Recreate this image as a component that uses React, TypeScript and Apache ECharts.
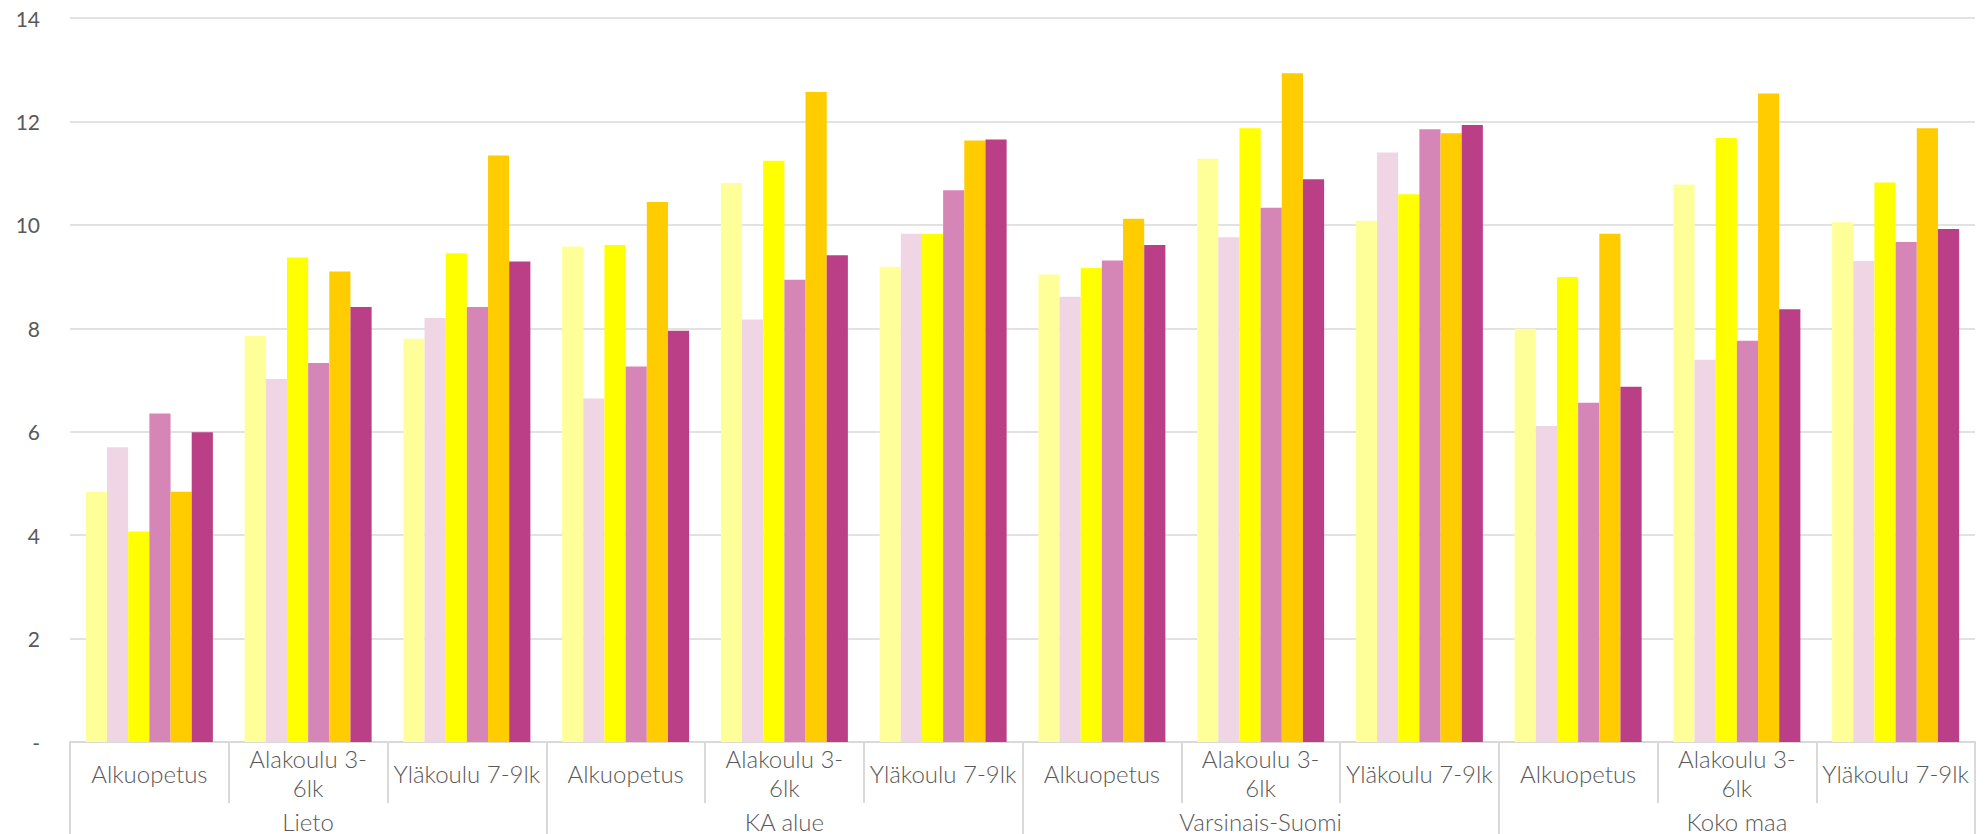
import React, { useEffect, useRef } from "react";
import * as echarts from "echarts";

const levels = ["Alkuopetus", "Alakoulu 3-\n6lk", "Yläkoulu 7-9lk"];
const groups = ["Lieto", "KA alue", "Varsinais-Suomi", "Koko maa"];
const categories = groups.flatMap(() => levels);
const yTicks = [0, 2, 4, 6, 8, 10, 12, 14];

const seriesNames = ["Sarja 1", "Sarja 2", "Sarja 3", "Sarja 4", "Sarja 5", "Sarja 6"];
const colors = ["#FFFF99", "#F0D6E5", "#FFFF00", "#D685B7", "#FFCC00", "#BA3F87"];

const s1 = [4.84, 7.85, 7.8, 9.58, 10.81, 9.19, 9.04, 11.28, 10.08, 7.99, 10.78, 10.05];
const s2 = [5.7, 7.02, 8.2, 6.64, 8.17, 9.83, 8.61, 9.76, 11.4, 6.11, 7.39, 9.3];
const s3 = [4.07, 9.37, 9.45, 9.61, 11.24, 9.83, 9.17, 11.87, 10.59, 8.99, 11.68, 10.82];
const s4 = [6.35, 7.33, 8.41, 7.26, 8.94, 10.67, 9.31, 10.33, 11.85, 6.56, 7.76, 9.67];
const s5 = [4.84, 9.1, 11.34, 10.44, 12.57, 11.63, 10.12, 12.93, 11.77, 9.83, 12.54, 11.87];
const s6 = [5.99, 8.41, 9.29, 7.95, 9.41, 11.65, 9.61, 10.88, 11.93, 6.87, 8.37, 9.92];
const seriesData = [s1, s2, s3, s4, s5, s6];

const FONT = "Lato";
const TEXT = "#595959";
const LINE = "#D9D9D9";

export default function App() {
  const ref = useRef<HTMLDivElement>(null);
  useEffect(() => {
    if (!ref.current) return;
    const chart = echarts.init(ref.current, null, { renderer: "svg" });
    chart.setOption({
      animation: false,
      backgroundColor: "#ffffff",
      grid: { left: 70, right: 10, top: 18, bottom: 92, containLabel: false },
      xAxis: [
        {
          type: "category",
          data: categories,
          position: "bottom",
          axisLine: { show: true, lineStyle: { color: LINE, width: 2 } },
          axisTick: { show: true, interval: 0, length: 61, lineStyle: { color: LINE, width: 2 } },
          axisLabel: {
            interval: 0,
            margin: 31,
            verticalAlign: "middle",
            color: TEXT,
            fontFamily: FONT,
            fontWeight: 300,
            fontSize: 24,
            lineHeight: 29,
          },
          splitLine: { show: false },
        },
        {
          type: "category",
          data: groups,
          position: "bottom",
          axisLine: { show: false },
          axisTick: { show: true, interval: 0, length: 100, lineStyle: { color: LINE, width: 2 } },
          axisLabel: {
            interval: 0,
            margin: 79,
            verticalAlign: "middle",
            color: TEXT,
            fontFamily: FONT,
            fontWeight: 300,
            fontSize: 24,
          },
          splitLine: { show: false },
        },
      ],
      yAxis: {
        type: "value",
        min: yTicks[0],
        max: yTicks[yTicks.length - 1],
        interval: 2,
        axisLine: { show: false },
        axisTick: { show: false },
        splitLine: { show: true, lineStyle: { color: LINE, width: 1.5 } },
        axisLabel: {
          margin: 30,
          color: TEXT,
          fontFamily: FONT,
          fontSize: 21,
          formatter: (v: number) => (v === 0 ? "-" : String(v)),
        },
      },
      series: seriesData.map((d, i) => ({
        name: seriesNames[i],
        type: "bar",
        xAxisIndex: 0,
        data: d,
        barGap: "0%",
        barCategoryGap: "20%",
        itemStyle: { color: colors[i] },
      })),
    });
    return () => chart.dispose();
  }, []);
  return (
    <div
      ref={ref}
      style={{ position: "fixed", left: 0, top: 0, width: 1985, height: 834, background: "#fff" }}
    />
  );
}
